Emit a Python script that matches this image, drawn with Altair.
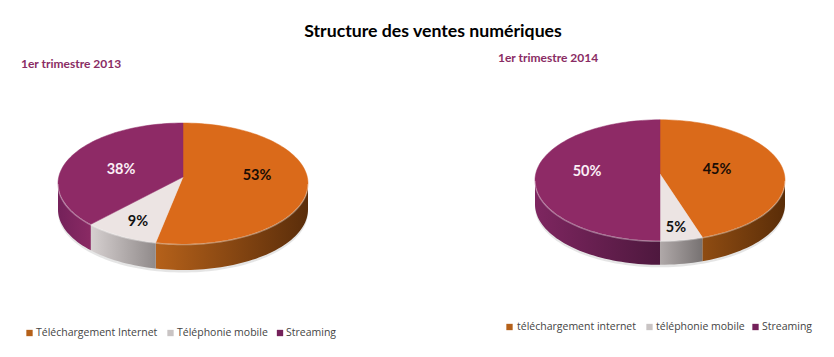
import math
import altair as alt

TITLE = "Structure des ventes numériques"
PERIODS = ["1er trimestre 2013", "1er trimestre 2014"]
SHARES = [[53.5, 9.7, 36.8], [44.5, 5.5, 50]]
SHARE_LABELS = [["53%", "9%", "38%"], ["45%", "5%", "50%"]]
LEGENDS = [["Téléchargement Internet", "Téléphonie mobile", "Streaming"],
           ["téléchargement internet", "téléphonie mobile", "Streaming"]]
TOP_COLORS = ["#DA6A1A", "#ECE4E3", "#8E2A66"]
RIMS = [
    [("#B5611A", "#5A2D0A"), ("#D6D0D0", "#908A8A"), ("#74215A", "#8A2A64")],
    [("#8F4C12", "#5A2D08"), ("#B0A9A9", "#777272"), ("#7E2660", "#4E183E")],
]
LABEL_COLORS = ["#1A0D05", "#111111", "#FBEFF6"]

M = 8
W, H = 818, 341
# layout: centre x, ellipse centre y, rx, ry, apex y, depth
PIES = [dict(cx=183, cy=183.5, rx=125, ry=60.5, ay=177, d=26),
        dict(cx=660, cy=180.3, rx=125, ry=60.5, ay=174, d=24)]
LABEL_POS = [[(257, 176), (138, 222), (121, 170)], [(717, 170), (676, 228), (587, 172)]]
LEG_SWATCH = [[(29.5, 333), (170.5, 333), (280, 333)], [(509.5, 327), (649.5, 327), (755.5, 327)]]
LEG_TEXT = [[36, 177, 286], [517, 656, 762]]
LEG_Y = [333, 327]
PERIOD_POS = [(21, 64), (498, 58)]


def pt(p, deg, dy=0):
    t = math.radians(deg)
    return [p["cx"] + p["rx"] * math.sin(t) - M, p["cy"] - p["ry"] * math.cos(t) + dy - M]


def sweep(a, b, step=2.0):
    n = max(2, int(abs(b - a) / step) + 1)
    return [a + (b - a) * i / (n - 1) for i in range(n)]


def poly(ring):
    ring = ring + [ring[0]]
    return {"type": "Feature", "properties": {}, "geometry": {"type": "Polygon", "coordinates": [ring]}}


def line(points):
    return {"type": "Feature", "properties": {}, "geometry": {"type": "LineString", "coordinates": points}}


def geo(feature, **mark):
    return alt.Chart(alt.Data(values=[feature])).mark_geoshape(**mark).project(
        type="identity", scale=1, translate=[0, 0])


layers = []
# anchor keeps the projection's fitted frame equal to the page frame
layers.append(geo(poly([[0, 0], [W, 0], [W, H], [0, H]]), fill="#ffffff", strokeWidth=0))

for i, p in enumerate(PIES):
    # soft shadow under the disc
    shadow = [pt(p, a, p["d"] + 2.5) for a in sweep(90, 270)] + [pt(p, a, 0) for a in sweep(270, 90)]
    layers.append(geo(poly(shadow), fill="#cfcfcf", opacity=0.55, strokeWidth=0))

    start = 0.0
    bounds = []
    for s in SHARES[i]:
        end = start + s / sum(SHARES[i]) * 360
        bounds.append((start, end))
        start = end

    for j, (a, b) in enumerate(bounds):
        lo, hi = max(a, 90), min(b, 270)
        if hi > lo:
            ring = [pt(p, x) for x in sweep(lo, hi)] + [pt(p, x, p["d"]) for x in sweep(hi, lo)]
            c1, c2 = RIMS[i][j]
            # bounding-box gradient runs left to right on the page
            left, right = (c1, c2)
            layers.append(geo(poly(ring), strokeWidth=0, fill=alt.LinearGradient(
                gradient="linear", x1=0, x2=1, y1=0, y2=0,
                stops=[alt.GradientStop(offset=0, color=left), alt.GradientStop(offset=1, color=right)])))

    for j, (a, b) in enumerate(bounds):
        apex = [p["cx"] - M, p["ay"] - M]
        ring = [apex] + [pt(p, x) for x in sweep(a, b)]
        layers.append(geo(poly(ring), fill=TOP_COLORS[j], stroke=TOP_COLORS[j], strokeWidth=0.5))
        lo, hi = max(a, 90), min(b, 270)
        if hi > lo:
            layers.append(geo(line([pt(p, x, 0.6) for x in sweep(lo, hi)]), filled=False,
                              stroke="#ffffff", strokeOpacity=0.35, strokeWidth=1.4))


def text(s, x, y, **mark):
    return alt.Chart(alt.Data(values=[{"t": s}])).mark_text(baseline="middle", **mark).encode(
        x=alt.value(x - M), y=alt.value(y - M), text="t:N")


layers.append(text(TITLE, 433, 32, font="Lato", fontWeight="bold", fontSize=17.7, color="#000000", align="center"))
for i in range(2):
    x, y = PERIOD_POS[i]
    layers.append(text(PERIODS[i], x, y, font="Lato", fontWeight="bold", fontSize=12, color="#8A2C64", align="left"))
    for j in range(3):
        lx, ly = LABEL_POS[i][j]
        layers.append(text(SHARE_LABELS[i][j], lx, ly, font="Lato", fontWeight="bold", fontSize=14.5,
                           color=LABEL_COLORS[j], align="center"))
        sx, sy = LEG_SWATCH[i][j]
        swatch = alt.Chart(alt.Data(values=[{"c": 1}])).mark_square(
            size=40, opacity=1, color=[RIMS[0][0][0], "#C9C4C4", "#74215A"][j]).encode(
            x=alt.value(sx - M), y=alt.value(sy - M))
        layers.append(swatch)
        layers.append(text(LEGENDS[i][j], LEG_TEXT[i][j], LEG_Y[i], font="Open Sans", fontSize=10.5,
                           color="#444444", align="left"))

chart = alt.layer(*layers).properties(
    width=W, height=H, padding=0, autosize=alt.AutoSizeParams(type="none")
).configure_view(stroke=None)

chart.save("out.html", embed_options={"renderer": "svg", "actions": False})
